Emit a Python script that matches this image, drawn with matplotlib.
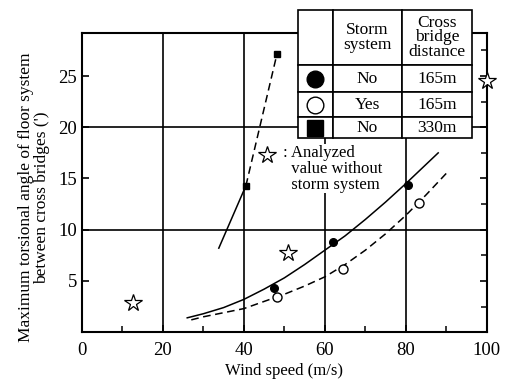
import matplotlib.pyplot as plt

plt.rcParams['font.family'] = ['Liberation Serif', 'DejaVu Serif']

# measured points
no165_x = [47.4, 62.0, 80.5]
no165_y = [4.3, 8.8, 14.4]
yes165_x = [48.1, 64.4, 83.2]
yes165_y = [3.4, 6.2, 12.6]
no330_x = [40.5, 48.2]
no330_y = [14.3, 27.2]
star_x = [12.6, 50.9, 100.0]
star_y = [2.8, 7.7, 24.5]

# fitted curves
fit_solid_x = [26, 30, 35, 40, 45, 50, 55, 60, 65, 70, 75, 80, 84, 88]
fit_solid_y = [1.4, 1.8, 2.4, 3.2, 4.2, 5.3, 6.6, 8.0, 9.4, 11.0, 12.7, 14.5, 16.0, 17.5]
fit_dash_x = [27, 30, 35, 40, 45, 50, 55, 60, 65, 70, 75, 80, 85, 90]
fit_dash_y = [1.2, 1.5, 1.9, 2.3, 3.0, 3.7, 4.5, 5.4, 6.6, 8.0, 9.6, 11.4, 13.4, 15.5]
sq_solid_x = [33.8, 40.5]
sq_solid_y = [8.2, 14.3]

table_rows = [['', 'Storm\nsystem', 'Cross\nbridge\ndistance'],
              ['', 'No', '165m'],
              ['', 'Yes', '165m'],
              ['', 'No', '330m']]

fig = plt.figure(figsize=(5.06, 3.84), dpi=100)
ax = fig.add_axes([0.162, 0.135, 0.800, 0.779])

for gx in [20, 40, 60, 80]:
    ax.axvline(gx, color='black', lw=1.2, zorder=1)
for gy in [10, 20]:
    ax.axhline(gy, color='black', lw=1.2, zorder=1)

ax.plot(fit_solid_x, fit_solid_y, 'k-', lw=1.1)
ax.plot(fit_dash_x, fit_dash_y, 'k--', lw=1.1, dashes=(5, 3))
ax.plot(sq_solid_x, sq_solid_y, 'k-', lw=1.1)
ax.plot(no330_x, no330_y, 'k--', lw=1.1, dashes=(5, 3))

ax.plot(no165_x, no165_y, 'ko', ms=5.5, zorder=3)
ax.plot(yes165_x, yes165_y, 'o', mfc='white', mec='black', ms=6.5, zorder=3)
ax.plot(no330_x, no330_y, 'ks', ms=5, zorder=3)
ax.plot(star_x, star_y, '*', mfc='white', mec='black', ms=13, mew=0.9,
        zorder=6, clip_on=False)

# star explanation
ax.text(49.6, 18.3, ': Analyzed\n  value without\n  storm system', fontsize=12,
        va='top', ha='left', linespacing=1.0,
        bbox=dict(fc='white', ec='none', pad=0.5))
ax.plot([45.7], [17.3], '*', mfc='white', mec='black', ms=13, mew=0.9, zorder=6)

ax.set_xlim(0, 100)
ax.set_ylim(0, 29.2)
ax.set_xticks([0, 20, 40, 60, 80, 100])
ax.set_xticks([10, 30, 50, 70, 90], minor=True)
ax.set_yticks([5, 10, 15, 20, 25])
ax.set_yticks([2.5, 7.5, 12.5, 17.5, 22.5, 27.5], minor=True)
ax.tick_params(direction='in', labelsize=13.5, length=5, width=1.2,
               right=True, top=False)
ax.tick_params(axis='x', pad=7)
ax.tick_params(which='minor', direction='in', length=4, width=1.1,
               left=False, right=True)
ax.tick_params(axis='x', which='minor', bottom=True)
for s in ax.spines.values():
    s.set_linewidth(1.5)

ax.set_xlabel('Wind speed (m/s)', fontsize=12, labelpad=3)
ax.set_ylabel("Maximum torsional angle of floor system\nbetween cross bridges (')",
              fontsize=12.5, linespacing=0.95)
ax.yaxis.set_label_coords(-0.08, 0.45)

# legend table
tb = ax.table(cellText=table_rows, colWidths=[35, 69, 70], cellLoc='center',
              bbox=[0.533, 0.649, 0.430, 0.428])
tb.auto_set_font_size(False)
tb.set_fontsize(12.5)
heights = [55, 27, 25, 21]
for (r, c), cell in tb.get_celld().items():
    cell.set_height(heights[r])
    cell.set_linewidth(1.2)
    cell.set_facecolor('white')
    cell.get_text().set_linespacing(0.9)
tb.set_zorder(5)
tb.set_clip_on(False)

mk_y = [(332 - 78.5) / 299, (332 - 104.5) / 299, (332 - 127.5) / 299]
mk_x = (315.5 - 82) / 405
ax.plot([mk_x], [mk_y[0]], 'ko', ms=12, transform=ax.transAxes, clip_on=False, zorder=7)
ax.plot([mk_x], [mk_y[1]], 'o', mfc='white', mec='black', ms=12, mew=1.0,
        transform=ax.transAxes, clip_on=False, zorder=7)
ax.plot([mk_x], [mk_y[2]], 'ks', ms=11, transform=ax.transAxes, clip_on=False, zorder=7)

fig.savefig('out.png', dpi=100)
